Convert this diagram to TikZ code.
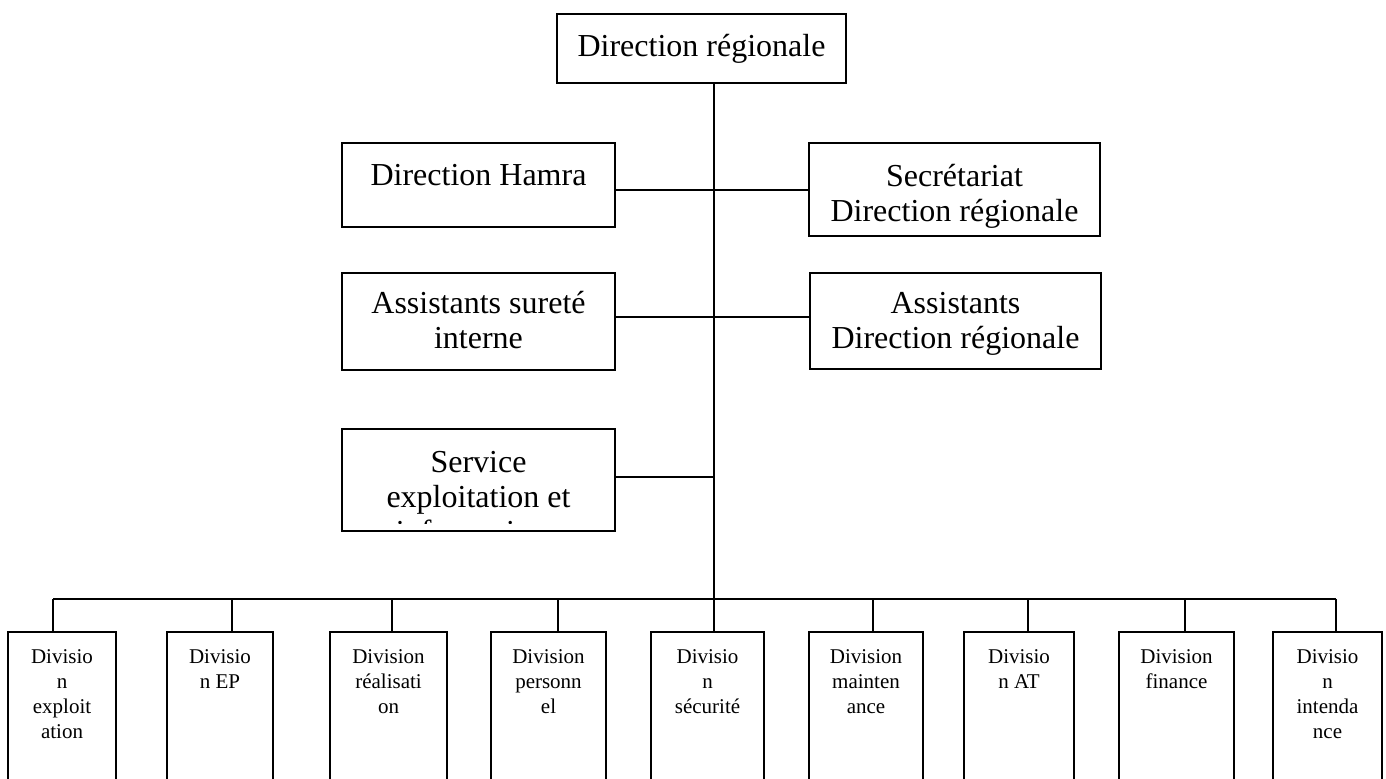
\documentclass[tikz,border=0pt]{standalone}
\usepackage{fontspec}
\setmainfont{Liberation Serif}
\usetikzlibrary{fit}
\begin{document}
\begin{tikzpicture}[x=0.5pt,y=-0.5pt,
  box/.style={draw, line width=1pt, inner sep=0pt},
  big/.style={font=\fontsize{16}{17.5}\selectfont, align=center, inner sep=0pt, anchor=north},
  small/.style={font=\fontsize{10.5}{12.5}\selectfont, align=center, inner sep=0pt, anchor=north},
  link/.style={line width=1pt}]
\clip (0,0) rectangle (1386,778);
% upper boxes
\node[box, fit={(557,14) (846,83)}] (top) {};
\node[big, anchor=center] (topt) at (top.center) {Direction régionale};
\node[box, fit={(342,143) (615,227)}] (hamra) {};
\node[big] (hamrat) at (478.5,164) {Direction Hamra};
\node[box, fit={(809,143) (1100,236)}] (secr) {};
\node[big] (secrt) at (954.5,164) {Secrétariat\\Direction régionale};
\node[box, fit={(342,273) (615,370)}] (asur) {};
\node[big] (asurt) at (478.5,291) {Assistants sureté\\interne};
\node[box, fit={(810,273) (1101,369)}] (adr) {};
\node[big] (adrt) at (955.5,292) {Assistants\\Direction régionale};
\begin{scope}
\clip (342,429) rectangle (615,523);
\node[big] (servt) at (478.5,451) {Service\\exploitation et\\informatique};
\end{scope}
\node[box, fit={(342,429) (615,531)}] (serv) {};
% bottom boxes
\node[box, fit={(8,632) (116,800)}] (b1) {};
\node[box, fit={(167,632) (273,800)}] (b2) {};
\node[box, fit={(330,632) (447,800)}] (b3) {};
\node[box, fit={(491,632) (606,800)}] (b4) {};
\node[box, fit={(651,632) (764,800)}] (b5) {};
\node[box, fit={(809,632) (923,800)}] (b6) {};
\node[box, fit={(964,632) (1074,800)}] (b7) {};
\node[box, fit={(1119,632) (1234,800)}] (b8) {};
\node[box, fit={(1273,632) (1382,800)}] (b9) {};
\node[small] (t1) at (62,649) {Divisio\\n\\exploit\\ation};
\node[small] (t2) at (220,649) {Divisio\\n EP};
\node[small] (t3) at (388.5,649) {Division\\réalisati\\on};
\node[small] (t4) at (548.5,649) {Division\\personn\\el};
\node[small] (t5) at (707.5,649) {Divisio\\n\\sécurité};
\node[small] (t6) at (866,649) {Division\\mainten\\ance};
\node[small] (t7) at (1019,649) {Divisio\\n AT};
\node[small] (t8) at (1176.5,649) {Division\\finance};
\node[small] (t9) at (1327.5,649) {Divisio\\n\\intenda\\nce};
% connectors
\coordinate (sp) at (714,599);
\coordinate (c1) at (714,190);
\coordinate (c2) at (714,317);
\coordinate (c3) at (714,477);
\draw[link] (sp |- top.south) -- (sp);
\draw[link] (hamra.east |- c1) -- (secr.west |- c1);
\draw[link] (asur.east |- c2) -- (adr.west |- c2);
\draw[link] (serv.east |- c3) -- (c3);
\coordinate (d1) at (53,599);
\coordinate (d2) at (232,599);
\coordinate (d3) at (392,599);
\coordinate (d4) at (558,599);
\coordinate (d5) at (714,599);
\coordinate (d6) at (873,599);
\coordinate (d7) at (1028,599);
\coordinate (d8) at (1185,599);
\coordinate (d9) at (1336,599);
\draw[link] (d1) -- (d9);
\foreach \i in {1,...,9} {\draw[link] (d\i) -- (d\i |- b\i.north);}
\end{tikzpicture}
\end{document}
